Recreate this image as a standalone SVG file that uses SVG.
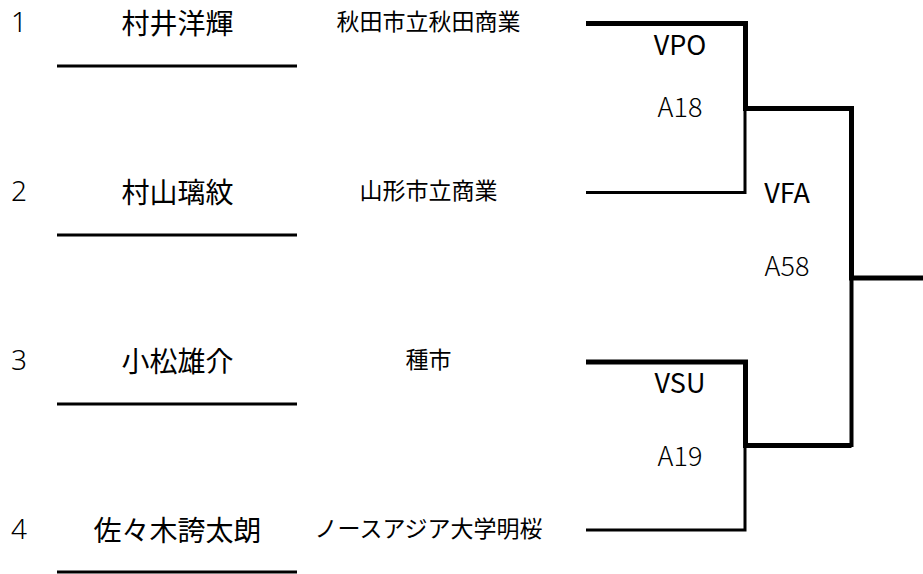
<svg xmlns="http://www.w3.org/2000/svg" width="923" height="574" viewBox="0 0 923 574">
<style>
text{font-family:"Noto Sans CJK JP","Noto Sans",sans-serif;fill:#000}
.num{font-family:"Noto Sans","Noto Sans CJK JP",sans-serif;font-size:28px;font-weight:300}
.name{font-size:28px;font-weight:400;text-anchor:middle}
.school{font-size:23px;font-weight:400;text-anchor:middle}
.code{font-size:27px;font-weight:400;text-anchor:middle}
.res{font-size:27px;font-weight:300;text-anchor:middle}
.line{stroke:#000;fill:none}
.thin{stroke-width:3}
.thick{stroke-width:5}
</style>
<rect width="923" height="574" fill="#fff"/>
<g id="player1">
<text class="num" x="11" y="32">1</text>
<text class="name" x="177.5" y="34">村井洋輝</text>
<text class="school" x="428.5" y="30">秋田市立秋田商業</text>
<line class="line thin" x1="57" y1="66" x2="297" y2="66"/>
</g>
<g id="player2">
<text class="num" x="11" y="201">2</text>
<text class="name" x="177.5" y="203">村山璃紋</text>
<text class="school" x="428.5" y="199">山形市立商業</text>
<line class="line thin" x1="57" y1="235" x2="297" y2="235"/>
</g>
<g id="player3">
<text class="num" x="11" y="370">3</text>
<text class="name" x="177.5" y="372">小松雄介</text>
<text class="school" x="428.5" y="368">種市</text>
<line class="line thin" x1="57" y1="404" x2="297" y2="404"/>
</g>
<g id="player4">
<text class="num" x="11" y="539">4</text>
<text class="name" x="177.5" y="541">佐々木誇太朗</text>
<text class="school" x="428.5" y="537">ノースアジア大学明桜</text>
<line class="line thin" x1="57" y1="572" x2="297" y2="572"/>
</g>
<g id="match1">
<text class="code" x="680" y="55">VPO</text>
<text class="res" x="680" y="117">A18</text>
</g>
<g id="match2">
<text class="code" x="680" y="393">VSU</text>
<text class="res" x="680" y="466">A19</text>
</g>
<g id="final">
<text class="code" x="787" y="203">VFA</text>
<text class="res" x="787" y="276">A58</text>
</g>
<g id="connectors">
<polyline class="line thick" points="586,23.5 745.5,23.5 745.5,108.5 851.5,108.5 851.5,278 923,278"/>
<polyline class="line thin" points="586,192.5 745,192.5 745,108.5"/>
<polyline class="line thick" points="586,362 745.5,362 745.5,445.5 851.5,445.5"/>
<line class="line" stroke-width="4" x1="851.5" y1="278" x2="851.5" y2="447"/>
<polyline class="line thin" points="586,530 745,530 745,445.5"/>
</g>
</svg>
